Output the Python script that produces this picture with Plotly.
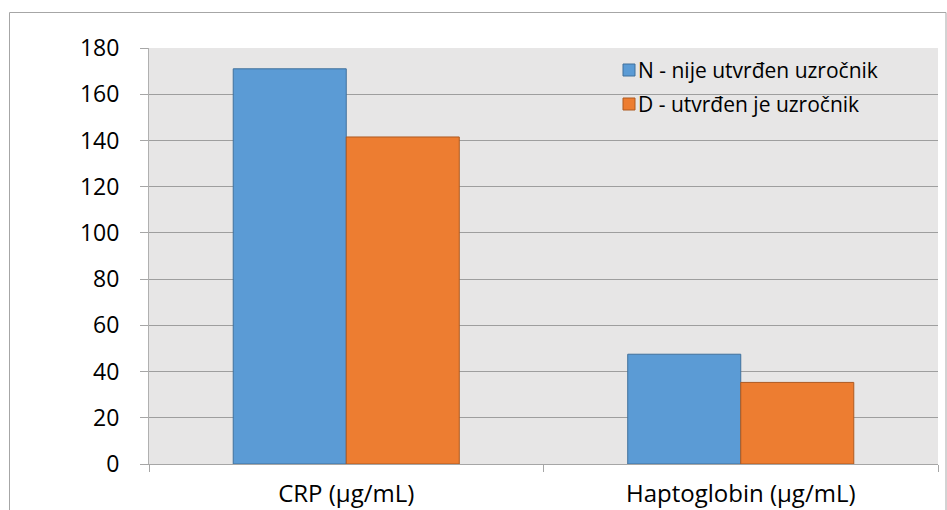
import plotly.graph_objects as go

categories = ["CRP (µg/mL)", "Haptoglobin (µg/mL)"]
series_names = ["N - nije utvrđen uzročnik", "D - utvrđen je uzročnik"]
values_n = [171, 47.5]
values_d = [141.5, 35.3]
y_ticks = [0, 20, 40, 60, 80, 100, 120, 140, 160, 180]

fill_colors = ["#5B9BD5", "#ED7D31"]
edge_colors = ["#41719C", "#AE5A21"]
font_family = "Open Sans"

W, H = 947, 510
L, R, T, B = 149, 9, 48, 46
pw, ph = W - L - R, H - T - B


def px_x(px):
    return (px - L) / pw


def px_y(py):
    return (H - B - py) / ph


fig = go.Figure()
for name, vals, fc, ec in zip(series_names, [values_n, values_d], fill_colors, edge_colors):
    fig.add_trace(go.Bar(
        x=categories, y=vals, name=name,
        marker=dict(color=fc, line=dict(color=ec, width=1)),
        showlegend=False,
    ))

# legend drawn as swatches + text inside the plot area
shapes = []
annotations = []
legend_x = 623
legend_rows = [70, 104]
for name, fc, ec, ry in zip(series_names, fill_colors, edge_colors, legend_rows):
    shapes.append(dict(
        type="rect", xref="paper", yref="paper",
        x0=px_x(legend_x), x1=px_x(legend_x + 12),
        y0=px_y(ry + 6), y1=px_y(ry - 6),
        fillcolor=fc, line=dict(color=ec, width=1),
    ))
    annotations.append(dict(
        xref="paper", yref="paper", x=px_x(legend_x + 13), y=px_y(ry),
        xanchor="left", yanchor="middle", showarrow=False, text=name,
        font=dict(family=font_family, size=21, color="#000000"),
    ))

# outer chart frame
shapes.append(dict(
    type="rect", xref="paper", yref="paper", layer="below",
    x0=px_x(9.5), x1=px_x(946), y0=px_y(520), y1=px_y(12.5),
    line=dict(color="#A6A6A6", width=1), fillcolor="rgba(0,0,0,0)",
))

fig.update_layout(
    width=W, height=H,
    margin=dict(l=L, r=R, t=T, b=B, pad=0),
    paper_bgcolor="#FFFFFF",
    plot_bgcolor="#E7E6E6",
    barmode="group", bargap=0.427, bargroupgap=0,
    font=dict(family=font_family, size=20, color="#000000"),
    shapes=shapes, annotations=annotations,
    xaxis=dict(
        type="category", showgrid=False, showline=True, linecolor="#A6A6A6",
        ticks="outside", tickson="boundaries", ticklen=7, tickcolor="#A6A6A6",
        tickfont=dict(size=24), ticklabelstandoff=8, automargin=False,
    ),
    yaxis=dict(
        range=[0, 180], tickvals=y_ticks, showgrid=True, gridcolor="#9E9E9E",
        gridwidth=1, showline=True, linecolor="#B0B0B0", zeroline=False,
        ticks="outside", ticklen=8, tickcolor="#A6A6A6",
        tickfont=dict(size=23), ticklabelstandoff=16, automargin=False,
    ),
)

fig.write_html("out.html")
